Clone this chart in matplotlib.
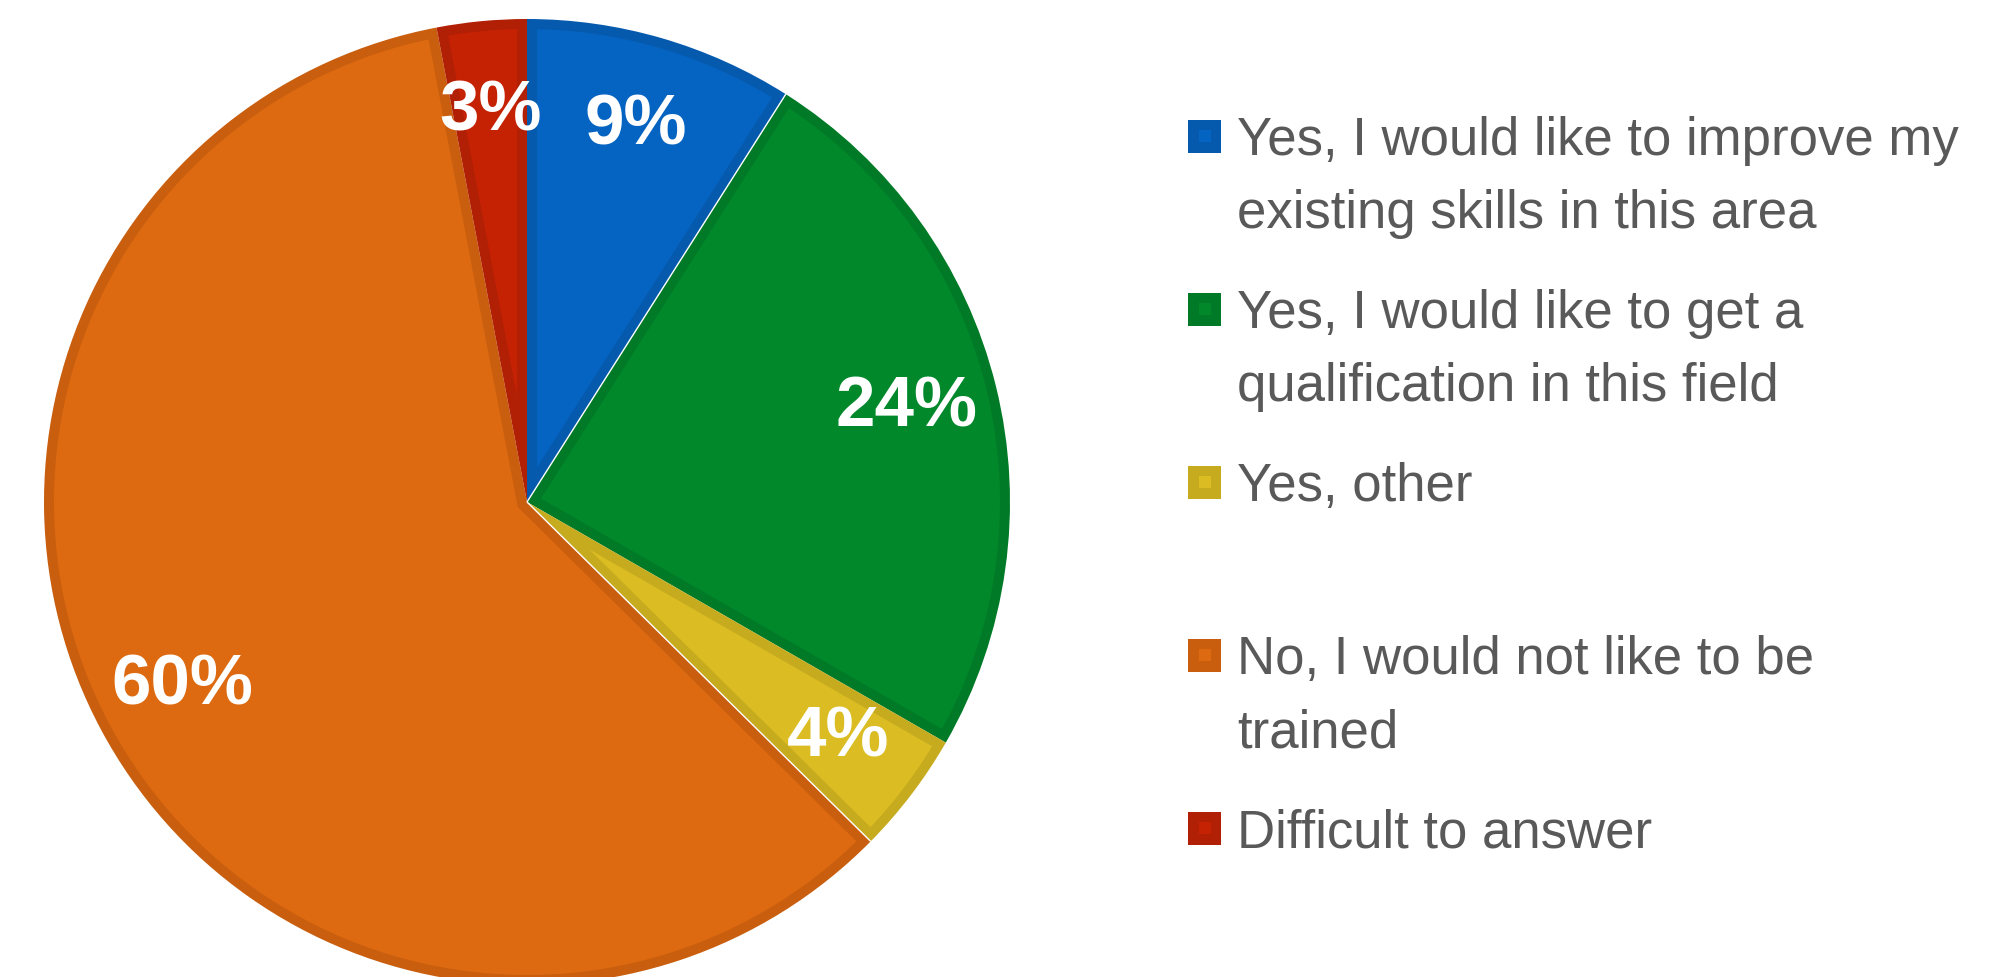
import matplotlib
matplotlib.use("Agg")
import numpy as np
import matplotlib.pyplot as plt
from matplotlib.patches import Rectangle, Polygon

# ---- data ----
categories = [
    "Yes, I would like to improve my\nexisting skills in this area",
    "Yes, I would like to get a\nqualification in this field",
    "Yes, other",
    "No, I would not like to be\ntrained",
    "Difficult to answer",
]
values = [9.0, 24.3, 4.1, 59.6, 3.0]
fill_colors = ["#0563C1", "#00882B", "#DBBC22", "#DD6A10", "#C52204"]
edge_colors = ["#055AAE", "#007A26", "#C7AB1F", "#C85E0E", "#B11F05"]
white_separator = [True, False, True, False, False]  # separator after each wedge

FAM = ["Liberation Sans", "DejaVu Sans"]
lab_size = 51
leg_size = 38

W, H = 1994, 977
fig = plt.figure(figsize=(W / 100, H / 100), dpi=100)
ax = fig.add_axes([0, 0, 1, 1])

cx, cy, R = 527, H - 502, 483
# base pie drawn in the darker border colour
wedges, texts, autotexts = ax.pie(
    values, colors=edge_colors, startangle=90, counterclock=False,
    center=(cx, cy), radius=R, frame=True, pctdistance=0.81,
    autopct=lambda p: f"{p:.0f}%",
    wedgeprops=dict(linewidth=0),
)

# inner fill of each wedge, inset by d (Excel-style inner border)
d = 10.0
r_in = R - d
for w, fc in zip(wedges, fill_colors):
    t1, t2 = w.theta1, w.theta2
    half = np.radians((t2 - t1) / 2)
    bis = np.radians((t1 + t2) / 2)
    off = d / np.sin(half)
    apex = (cx + off * np.cos(bis), cy + off * np.sin(bis))
    da = np.degrees(np.arcsin(d / r_in))
    angs = np.radians(np.linspace(t1 + da, t2 - da, 300))
    pts = [apex] + [(cx + r_in * np.cos(a), cy + r_in * np.sin(a)) for a in angs]
    ax.add_patch(Polygon(pts, closed=True, facecolor=fc, edgecolor="none",
                         zorder=w.get_zorder() + 0.1))

# thin white separators
for w, sep in zip(wedges, white_separator):
    if sep:
        a = np.radians(w.theta1)
        ax.plot([cx, cx + R * np.cos(a)], [cy, cy + R * np.sin(a)], color="white", lw=1.0,
                zorder=w.get_zorder() + 0.2, solid_capstyle="butt")

for t in autotexts:
    t.set_color("white")
    t.set_fontsize(lab_size)
    t.set_fontweight("bold")
    t.set_family(FAM)
    t.set_zorder(5)

ax.set_xlim(0, W)
ax.set_ylim(0, H)
ax.set_aspect("equal")
ax.axis("off")

# ---- legend (manual, Excel-like) ----
mx0, msz, inner = 1188, 33, 12
tx = 1237
first_center = 136
step = 173
line_gap = 73
for i, (lab, fc, ec) in enumerate(zip(categories, fill_colors, edge_colors)):
    yc = first_center + i * step
    ax.add_patch(Rectangle((mx0, H - yc - msz / 2), msz, msz, facecolor=ec, edgecolor="none"))
    ax.add_patch(Rectangle((mx0 + (msz - inner) / 2, H - yc - inner / 2), inner, inner,
                           facecolor=fc, edgecolor="none"))
    for j, line in enumerate(lab.split("\n")):
        ax.text(tx, H - (yc + 19 + j * line_gap), line, fontsize=leg_size, color="#595959",
                family=FAM, ha="left", va="baseline")

fig.savefig("out.png", dpi=100)
